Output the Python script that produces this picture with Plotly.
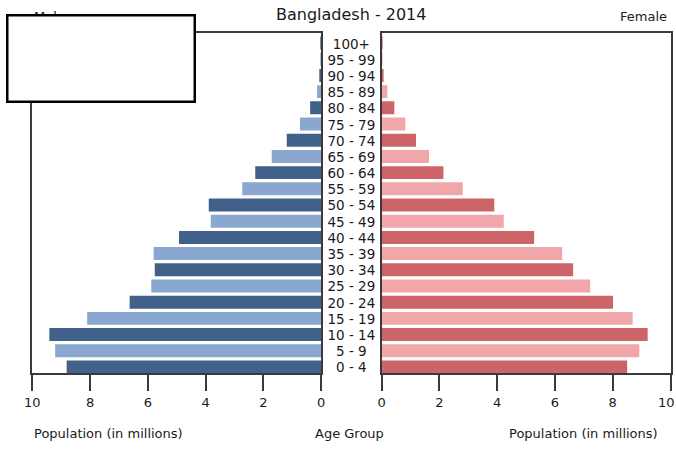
import plotly.graph_objects as go

age_groups = ["0 - 4", "5 - 9", "10 - 14", "15 - 19", "20 - 24", "25 - 29", "30 - 34",
              "35 - 39", "40 - 44", "45 - 49", "50 - 54", "55 - 59", "60 - 64", "65 - 69",
              "70 - 74", "75 - 79", "80 - 84", "85 - 89", "90 - 94", "95 - 99", "100+"]
male = [8.81, 9.21, 9.41, 8.10, 6.63, 5.88, 5.76, 5.80, 4.92, 3.82, 3.89, 2.73, 2.28,
        1.71, 1.19, 0.73, 0.38, 0.14, 0.05, 0.02, 0.01]
female = [8.50, 8.92, 9.21, 8.69, 8.01, 7.22, 6.63, 6.25, 5.28, 4.23, 3.90, 2.81, 2.14,
          1.64, 1.19, 0.82, 0.44, 0.20, 0.07, 0.02, 0.01]
x_ticks = [0, 2, 4, 6, 8, 10]
left_tick_text = ["0", "2", "4", "6", "8", "10"]
right_tick_text = ["0", "2", "4", "6", "8", "10\u00a0\u00a0"]

male_colors = ["#41618a", "#8aa8cf"]
female_colors = ["#cc6468", "#f1a7a9"]

W, H = 676, 449
idx = list(range(len(age_groups)))

fig = go.Figure()
fig.add_trace(go.Bar(
    y=idx, x=male, orientation="h", xaxis="x", yaxis="y",
    marker=dict(color=[male_colors[i % 2] for i in idx], line=dict(width=0)),
    showlegend=False, hoverinfo="skip"))
fig.add_trace(go.Bar(
    y=idx, x=female, orientation="h", xaxis="x2", yaxis="y2",
    marker=dict(color=[female_colors[i % 2] for i in idx], line=dict(width=0)),
    showlegend=False, hoverinfo="skip"))
fig.add_trace(go.Scatter(
    y=idx, x=[0.5] * len(idx), mode="text", text=age_groups, xaxis="x3", yaxis="y3",
    textfont=dict(family="DejaVu Sans", size=13.5, color="#1a1a1a"),
    showlegend=False, hoverinfo="skip", cliponaxis=False))

yrange = [-0.39, 20.62]
ydom = [1 - 373.3 / H, 1 - 33 / H]
axcol = "#3a3a3a"
common_x = dict(tickvals=x_ticks, ticks="outside",
                ticklen=16, tickwidth=1.5, tickcolor=axcol, showline=True, linecolor=axcol,
                linewidth=1.5, mirror=True, showgrid=False, zeroline=False, automargin=False,
                ticklabeloverflow="allow",
                tickfont=dict(family="DejaVu Sans", size=13, color="#1a1a1a"))
common_y = dict(range=yrange, domain=ydom, showticklabels=False, ticks="", showgrid=False,
                zeroline=False, showline=True, linecolor=axcol, linewidth=1.5, mirror=True,
                automargin=False)

fig.update_layout(
    width=W, height=H, margin=dict(l=0, r=0, t=0, b=0, pad=0, autoexpand=False),
    paper_bgcolor="white", plot_bgcolor="white", bargap=0.2,
    xaxis=dict(domain=[32.3 / W, 321.1 / W], range=[10, 0], anchor="y",
               ticktext=left_tick_text, **common_x),
    yaxis=dict(anchor="x", **common_y),
    xaxis2=dict(domain=[381.6 / W, 670.5 / W], range=[0, 10], anchor="y2",
                ticktext=right_tick_text, **common_x),
    yaxis2=dict(anchor="x2", **common_y),
    xaxis3=dict(domain=[321.1 / W, 381.6 / W], range=[0, 1], anchor="y3", visible=False),
    yaxis3=dict(anchor="x3", range=[yrange[0] + 0.13, yrange[1] + 0.13], domain=ydom, visible=False),
)

font = dict(family="DejaVu Sans", size=13, color="#1a1a1a")
anns = [
    dict(text="Bangladesh - 2014", x=351 / W, y=1 - 15 / H, font=dict(family="DejaVu Sans", size=16, color="#1a1a1a"),
         xanchor="center", yanchor="middle"),
    dict(text="Female", x=669 / W, y=1 - 16 / H, font=font, xanchor="right", yanchor="middle"),
    dict(text="Male", x=32 / W, y=1 - 17 / H, font=font, xanchor="left", yanchor="middle"),
    dict(text="Population (in millions)", x=108 / W, y=1 - 433 / H, font=font, xanchor="center", yanchor="middle"),
    dict(text="Age Group", x=349 / W, y=1 - 433 / H, font=font, xanchor="center", yanchor="middle"),
    dict(text="Population (in millions)", x=583 / W, y=1 - 433 / H, font=font, xanchor="center", yanchor="middle"),
    dict(text=" ", x=6 / W, y=1 - 14 / H, xanchor="left", yanchor="top", width=185, height=84,
         bgcolor="white", bordercolor="black", borderwidth=2.5, borderpad=0, showarrow=False),
]
for a in anns:
    a.setdefault("showarrow", False)
    a["xref"] = "paper"
    a["yref"] = "paper"
fig.update_layout(annotations=anns)

fig.write_html("out.html", config={"displayModeBar": False},
               post_script="document.body.style.margin='0';document.body.style.overflow='hidden';")
